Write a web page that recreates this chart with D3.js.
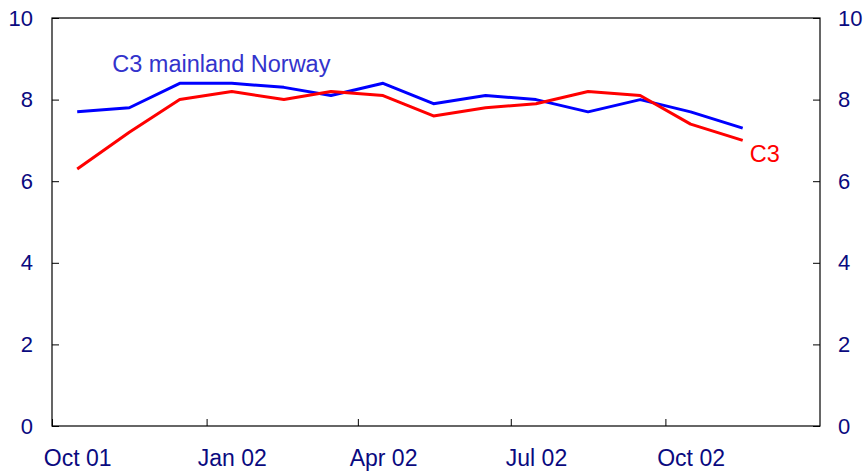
<!DOCTYPE html>
<html>
<head>
<meta charset="utf-8">
<script src="https://cdn.jsdelivr.net/npm/d3@7"></script>
<style>
  html, body { margin: 0; padding: 0; background: #fff; }
  svg { display: block; font-family: "Liberation Sans", Arial, sans-serif; }
</style>
</head>
<body>
<svg id="chart" width="868" height="472"></svg>
<script>
const months = ["2001-10","2001-11","2001-12","2002-01","2002-02","2002-03","2002-04",
                "2002-05","2002-06","2002-07","2002-08","2002-09","2002-10","2002-11"];
const c3Mainland = [7.7, 7.8, 8.4, 8.4, 8.3, 8.1, 8.4, 7.9, 8.1, 8.0, 7.7, 8.0, 7.7, 7.3];
const c3 = [6.3, 7.2, 8.0, 8.2, 8.0, 8.2, 8.1, 7.6, 7.8, 7.9, 8.2, 8.1, 7.4, 7.0];
const yTicks = [0, 2, 4, 6, 8, 10];
const xTickMonths = ["2001-10","2002-01","2002-04","2002-07","2002-10"];
const xTickLabels = ["Oct 01","Jan 02","Apr 02","Jul 02","Oct 02"];
const seriesNames = ["C3 mainland Norway", "C3"];

const parse = d3.timeParse("%Y-%m");
const mid = d => d3.timeDay.offset(parse(d), 15);

const svg = d3.select("#chart");
const L = 52, R = 820, T = 18, B = 426;
const x = d3.scaleTime().domain([parse("2001-10"), parse("2003-01")]).range([L, R]);
const y = d3.scaleLinear().domain([0, 10]).range([B, T]);
const navy = "#0a0a80";

// box
svg.append("rect").attr("x", L).attr("y", T).attr("width", R - L).attr("height", B - T)
  .attr("fill", "none").attr("stroke", "#000").attr("stroke-width", 1.2);

// left axis
const gl = svg.append("g").attr("transform", `translate(${L},0)`)
  .call(d3.axisLeft(y).tickValues(yTicks).tickSizeInner(-7).tickSizeOuter(0).tickPadding(19).tickFormat(d3.format("d")));
// right axis
const gr = svg.append("g").attr("transform", `translate(${R},0)`)
  .call(d3.axisRight(y).tickValues(yTicks).tickSizeInner(-7).tickSizeOuter(0).tickPadding(18).tickFormat(d3.format("d")));
// bottom axis
const tickDates = xTickMonths.map(parse);
const gb = svg.append("g").attr("transform", `translate(0,${B})`)
  .call(d3.axisBottom(x).tickValues(tickDates).tickSizeInner(-7).tickSizeOuter(0).tickPadding(24)
    .tickFormat((d, i) => xTickLabels[i]));
gb.selectAll(".tick text").attr("x", d => x(d3.timeDay.offset(d, 15)) - x(d));

[gl, gr].forEach(g => {
  g.select(".domain").remove();
  g.selectAll(".tick line").attr("stroke", "#000").attr("stroke-width", 1);
  g.selectAll(".tick text").attr("fill", navy).style("font-size", "22px");
});
gb.select(".domain").remove();
gb.selectAll(".tick line").attr("stroke", "#000").attr("stroke-width", 1);
gb.selectAll(".tick text").attr("fill", navy).style("font-size", "23px");

const line = d3.line().x((d, i) => x(mid(months[i]))).y(d => y(d));

svg.append("path").datum(c3Mainland).attr("d", line)
  .attr("fill", "none").attr("stroke", "#0000ff").attr("stroke-width", 3).attr("stroke-linejoin", "round");
svg.append("path").datum(c3).attr("d", line)
  .attr("fill", "none").attr("stroke", "#ff0000").attr("stroke-width", 3).attr("stroke-linejoin", "round");

svg.append("text").attr("x", x(mid("2001-11")) - 17).attr("y", 72)
  .attr("fill", "#3333cc").style("font-size", "23.5px").text(seriesNames[0]);
svg.append("text").attr("x", x(mid("2002-11")) + 7).attr("y", 162)
  .attr("fill", "#ff0000").style("font-size", "23.5px").text(seriesNames[1]);
</script>
</body>
</html>
